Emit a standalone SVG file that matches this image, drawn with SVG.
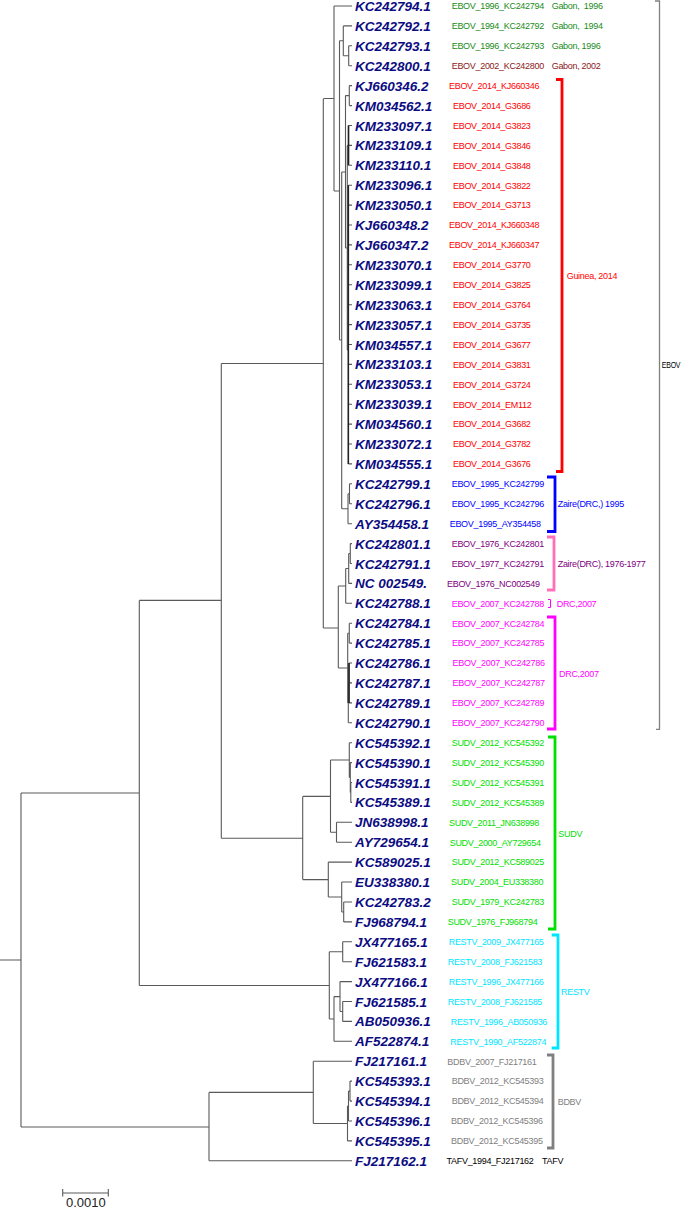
<svg xmlns="http://www.w3.org/2000/svg" width="685" height="1208" viewBox="0 0 685 1208">
<style>
.tree{fill:none;stroke:#5a5a5a;stroke-width:1.1}
.dark{fill:none;stroke:#222;stroke-width:1.6}
.acc{font-family:"Liberation Sans",Arial,sans-serif;font-size:13.5px;font-weight:bold;font-style:italic;fill:#0c0c82}
.lab{font-family:"Liberation Sans",Arial,sans-serif;font-size:9px;letter-spacing:-0.3px}
.br{fill:none;stroke-width:2.8}
.g{fill:#1a8c1a}.dr{fill:#8b1a1a}.r{fill:#ff0000}.b{fill:#0000ff}.p{fill:#800080}.m{fill:#ff00ff}.s{fill:#00e000}.c{fill:#00e5ff}.gr{fill:#808080}.k{fill:#000}
</style>
<rect width="685" height="1208" fill="#fff"/>
<g id="connectors">
<path class="tree" d="M323.3 99V628M323.3 98.5H334M334 6V191M339.5 40.8V340M334 191H339.5M343.3 25.9V55.7M339.5 40.8H343.3M348.7 45.8V65.7M343.3 55.7H348.7M341.7 172V508.7M339.5 340H341.7M345.5 95.6V248M341.7 172H345.5M349.3 85.6V105.6M345.5 95.6H349.3M347.3 145.4V350M345.5 248H347.3M348.5 125.5V165.3M347.3 145.4H348.5M347.3 350H348.3M348 493.8V523.7M341.7 508.7H348M349.5 483.8V503.8M348 493.8H349.5M338.3 586V668M323.3 628H338.3M345.7 568.5V603.3M338.3 586H345.7M348.7 553.5V583.4M345.7 568.5H348.7M350.3 543.6V563.5M348.7 553.5H350.3M347.7 633.2V702.9M338.3 668H347.7M349.3 623.2V643.1M347.7 633.2H349.3M348.3 682.9V722.8M347.7 702.9H348.3M349 663V702.9M348.3 682.9H349"/>
<path class="tree" d="M221.3 363.5V838.2M221.3 363.5H323.3M302.7 796.4V879.6M221.3 838.2H302.7M330.5 760V832.3M302.7 796.4H330.5M349.3 742.7V777.5M330.5 760H349.3M350.3 762.6V792.5M349.3 777.5H350.3M350.8 782.5V802.4M350.3 792.5H350.8M336.5 822.3V842.2M330.5 832.3H336.5M328.3 862.1V897M302.7 879.6H328.3M341.7 882V912M328.3 897H341.7M343.7 902V921.9M341.7 912H343.7"/>
<path class="tree" d="M139.3 600.4V985.5M139.3 600.4H221.3M329.3 951.8V1019M139.3 985.5H329.3M342.7 941.8V961.7M329.3 951.8H342.7M334 996.6V1041.3M329.3 1019H334M340 981.6V1011.5M334 996.6H340M342.7 1001.5V1021.4M340 1011.5H342.7M21 793V1127M0 960H21M21 793H139.3M21 1127H209M209 1092.4V1160.8M313.3 1061.2V1123.5M209 1092.4H313.3M347.5 1106V1140.9M313.3 1123.5H347.5M348.5 1091.1V1121M347.5 1106H348.5M350 1081.1V1101.1M348.5 1091.1H350"/>
<path class="tree" d="M334 6H352M343.3 25.9H352M348.7 45.8H352M348.7 65.7H352M349.3 85.6H352M349.3 105.6H352M348.5 125.5H352M348.5 145.4H352M348.5 165.3H352M348.3 185.2H352M348.3 205.1H352M348.3 225H352M348.3 244.9H352M348.3 264.8H352M348.3 284.7H352M348.3 304.7H352M348.3 324.6H352M348.3 344.5H352M348.3 364.4H352M348.3 384.3H352M348.3 404.2H352M348.3 424.1H352M348.3 444H352M348.3 463.9H352M349.5 483.8H352M349.5 503.8H352M348 523.7H352M350.3 543.6H352M350.3 563.5H352M348.7 583.4H352M345.7 603.3H352M349.3 623.2H352M349.3 643.1H352M349 663H352M349 682.9H352M349 702.9H352M348.3 722.8H352"/>
<path class="tree" d="M349.3 742.7H352M350.3 762.6H352M350.8 782.5H352M350.8 802.4H352M336.5 822.3H352M336.5 842.2H352M328.3 862.1H352M341.7 882H352M343.7 902H352M343.7 921.9H352M342.7 941.8H352M342.7 961.7H352M340 981.6H352M342.7 1001.5H352M342.7 1021.4H352M334 1041.3H352M313.3 1061.2H352M350 1081.1H352M350 1101.1H352M348.5 1121H352M347.5 1140.9H352M209 1160.8H352"/>
<path class="dark" d="M348.3 185.2V463.9M348.5 125.5V165.3M349 663V702.9"/>
</g>
<g id="nodes">
<g id="n0"><text class="acc" x="355" y="11">KC242794.1</text><text class="lab g" x="451.7" y="9.3">EBOV_1996_KC242794</text><text class="lab g" x="551.7" y="9.3" xml:space="preserve">Gabon,  1996</text></g>
<g id="n1"><text class="acc" x="355" y="30.9">KC242792.1</text><text class="lab g" x="451.7" y="29.2">EBOV_1994_KC242792</text><text class="lab g" x="551.7" y="29.2" xml:space="preserve">Gabon,  1994</text></g>
<g id="n2"><text class="acc" x="355" y="50.8">KC242793.1</text><text class="lab g" x="451.7" y="49.1">EBOV_1996_KC242793</text><text class="lab g" x="551.7" y="49.1">Gabon, 1996</text></g>
<g id="n3"><text class="acc" x="355" y="70.7">KC242800.1</text><text class="lab dr" x="451.7" y="69">EBOV_2002_KC242800</text><text class="lab dr" x="551.7" y="69">Gabon, 2002</text></g>
<g id="n4"><text class="acc" x="355" y="90.6">KJ660346.2</text><text class="lab r" x="449" y="88.9">EBOV_2014_KJ660346</text></g>
<g id="n5"><text class="acc" x="355" y="110.6">KM034562.1</text><text class="lab r" x="453" y="108.9">EBOV_2014_G3686</text></g>
<g id="n6"><text class="acc" x="355" y="130.5">KM233097.1</text><text class="lab r" x="453" y="128.8">EBOV_2014_G3823</text></g>
<g id="n7"><text class="acc" x="355" y="150.4">KM233109.1</text><text class="lab r" x="453" y="148.7">EBOV_2014_G3846</text></g>
<g id="n8"><text class="acc" x="355" y="170.3">KM233110.1</text><text class="lab r" x="453" y="168.6">EBOV_2014_G3848</text></g>
<g id="n9"><text class="acc" x="355" y="190.2">KM233096.1</text><text class="lab r" x="453" y="188.5">EBOV_2014_G3822</text></g>
<g id="n10"><text class="acc" x="355" y="210.1">KM233050.1</text><text class="lab r" x="453" y="208.4">EBOV_2014_G3713</text></g>
<g id="n11"><text class="acc" x="355" y="230">KJ660348.2</text><text class="lab r" x="449" y="228.3">EBOV_2014_KJ660348</text></g>
<g id="n12"><text class="acc" x="355" y="249.9">KJ660347.2</text><text class="lab r" x="449" y="248.2">EBOV_2014_KJ660347</text></g>
<g id="n13"><text class="acc" x="355" y="269.8">KM233070.1</text><text class="lab r" x="453" y="268.1">EBOV_2014_G3770</text></g>
<g id="n14"><text class="acc" x="355" y="289.7">KM233099.1</text><text class="lab r" x="453" y="288">EBOV_2014_G3825</text></g>
<g id="n15"><text class="acc" x="355" y="309.7">KM233063.1</text><text class="lab r" x="453" y="308">EBOV_2014_G3764</text></g>
<g id="n16"><text class="acc" x="355" y="329.6">KM233057.1</text><text class="lab r" x="453" y="327.9">EBOV_2014_G3735</text></g>
<g id="n17"><text class="acc" x="355" y="349.5">KM034557.1</text><text class="lab r" x="453" y="347.8">EBOV_2014_G3677</text></g>
<g id="n18"><text class="acc" x="355" y="369.4">KM233103.1</text><text class="lab r" x="453" y="367.7">EBOV_2014_G3831</text></g>
<g id="n19"><text class="acc" x="355" y="389.3">KM233053.1</text><text class="lab r" x="453" y="387.6">EBOV_2014_G3724</text></g>
<g id="n20"><text class="acc" x="355" y="409.2">KM233039.1</text><text class="lab r" x="453" y="407.5">EBOV_2014_EM112</text></g>
<g id="n21"><text class="acc" x="355" y="429.1">KM034560.1</text><text class="lab r" x="453" y="427.4">EBOV_2014_G3682</text></g>
<g id="n22"><text class="acc" x="355" y="449">KM233072.1</text><text class="lab r" x="453" y="447.3">EBOV_2014_G3782</text></g>
<g id="n23"><text class="acc" x="355" y="468.9">KM034555.1</text><text class="lab r" x="453" y="467.2">EBOV_2014_G3676</text></g>
<g id="n24"><text class="acc" x="355" y="488.8">KC242799.1</text><text class="lab b" x="451.7" y="487.1">EBOV_1995_KC242799</text></g>
<g id="n25"><text class="acc" x="355" y="508.8">KC242796.1</text><text class="lab b" x="451.7" y="507.1">EBOV_1995_KC242796</text></g>
<g id="n26"><text class="acc" x="355" y="528.7">AY354458.1</text><text class="lab b" x="449.7" y="527">EBOV_1995_AY354458</text></g>
<g id="n27"><text class="acc" x="355" y="548.6">KC242801.1</text><text class="lab p" x="451.7" y="546.9">EBOV_1976_KC242801</text></g>
<g id="n28"><text class="acc" x="355" y="568.5">KC242791.1</text><text class="lab p" x="451.7" y="566.8">EBOV_1977_KC242791</text></g>
<g id="n29"><text class="acc" x="355" y="588.4">NC 002549.</text><text class="lab p" x="447" y="586.7">EBOV_1976_NC002549</text></g>
<g id="n30"><text class="acc" x="355" y="608.3">KC242788.1</text><text class="lab m" x="451.7" y="606.6">EBOV_2007_KC242788</text><text class="lab m" x="556.7" y="606.6">DRC,2007</text></g>
<g id="n31"><text class="acc" x="355" y="628.2">KC242784.1</text><text class="lab m" x="452" y="626.5">EBOV_2007_KC242784</text></g>
<g id="n32"><text class="acc" x="355" y="648.1">KC242785.1</text><text class="lab m" x="452" y="646.4">EBOV_2007_KC242785</text></g>
<g id="n33"><text class="acc" x="355" y="668">KC242786.1</text><text class="lab m" x="452.5" y="666.3">EBOV_2007_KC242786</text></g>
<g id="n34"><text class="acc" x="355" y="687.9">KC242787.1</text><text class="lab m" x="452.5" y="686.2">EBOV_2007_KC242787</text></g>
<g id="n35"><text class="acc" x="355" y="707.9">KC242789.1</text><text class="lab m" x="452" y="706.2">EBOV_2007_KC242789</text></g>
<g id="n36"><text class="acc" x="355" y="727.8">KC242790.1</text><text class="lab m" x="452" y="726.1">EBOV_2007_KC242790</text></g>
<g id="n37"><text class="acc" x="355" y="747.7">KC545392.1</text><text class="lab s" x="451.7" y="746">SUDV_2012_KC545392</text></g>
<g id="n38"><text class="acc" x="355" y="767.6">KC545390.1</text><text class="lab s" x="451.7" y="765.9">SUDV_2012_KC545390</text></g>
<g id="n39"><text class="acc" x="355" y="787.5">KC545391.1</text><text class="lab s" x="451.7" y="785.8">SUDV_2012_KC545391</text></g>
<g id="n40"><text class="acc" x="355" y="807.4">KC545389.1</text><text class="lab s" x="451.7" y="805.7">SUDV_2012_KC545389</text></g>
<g id="n41"><text class="acc" x="355" y="827.3">JN638998.1</text><text class="lab s" x="449" y="825.6">SUDV_2011_JN638998</text></g>
<g id="n42"><text class="acc" x="355" y="847.2">AY729654.1</text><text class="lab s" x="449.7" y="845.5">SUDV_2000_AY729654</text></g>
<g id="n43"><text class="acc" x="355" y="867.1">KC589025.1</text><text class="lab s" x="451.7" y="865.4">SUDV_2012_KC589025</text></g>
<g id="n44"><text class="acc" x="355" y="887">EU338380.1</text><text class="lab s" x="451" y="885.3">SUDV_2004_EU338380</text></g>
<g id="n45"><text class="acc" x="355" y="907">KC242783.2</text><text class="lab s" x="451.7" y="905.3">SUDV_1979_KC242783</text></g>
<g id="n46"><text class="acc" x="355" y="926.9">FJ968794.1</text><text class="lab s" x="447.7" y="925.2">SUDV_1976_FJ968794</text></g>
<g id="n47"><text class="acc" x="355" y="946.8">JX477165.1</text><text class="lab c" x="448.7" y="945.1">RESTV_2009_JX477165</text></g>
<g id="n48"><text class="acc" x="355" y="966.7">FJ621583.1</text><text class="lab c" x="447.7" y="965">RESTV_2008_FJ621583</text></g>
<g id="n49"><text class="acc" x="355" y="986.6">JX477166.1</text><text class="lab c" x="448.7" y="984.9">RESTV_1996_JX477166</text></g>
<g id="n50"><text class="acc" x="355" y="1006.5">FJ621585.1</text><text class="lab c" x="447.7" y="1004.8">RESTV_2008_FJ621585</text></g>
<g id="n51"><text class="acc" x="355" y="1026.4">AB050936.1</text><text class="lab c" x="450.7" y="1024.7">RESTV_1996_AB050936</text></g>
<g id="n52"><text class="acc" x="355" y="1046.3">AF522874.1</text><text class="lab c" x="450.3" y="1044.6">RESTV_1990_AF522874</text></g>
<g id="n53"><text class="acc" x="355" y="1066.2">FJ217161.1</text><text class="lab gr" x="447.3" y="1064.5">BDBV_2007_FJ217161</text></g>
<g id="n54"><text class="acc" x="355" y="1086.1">KC545393.1</text><text class="lab gr" x="451.7" y="1084.4">BDBV_2012_KC545393</text></g>
<g id="n55"><text class="acc" x="355" y="1106.1">KC545394.1</text><text class="lab gr" x="451.7" y="1104.4">BDBV_2012_KC545394</text></g>
<g id="n56"><text class="acc" x="355" y="1126">KC545396.1</text><text class="lab gr" x="451" y="1124.3">BDBV_2012_KC545396</text></g>
<g id="n57"><text class="acc" x="355" y="1145.9">KC545395.1</text><text class="lab gr" x="451" y="1144.2">BDBV_2012_KC545395</text></g>
<g id="n58"><text class="acc" x="355" y="1165.8">FJ217162.1</text><text class="lab k" x="446.5" y="1164.1">TAFV_1994_FJ217162</text><text class="lab k" x="542" y="1164.1">TAFV</text></g>
</g>
<g id="brackets">
<path class="br" stroke="#ff0000" d="M556 79.5H562V471.5H556"/>
<text class="lab r" x="566.7" y="279.3">Guinea, 2014</text>
<path class="br" stroke="#0000ff" d="M547 477H555V531.5H547"/>
<text class="lab b" x="557.7" y="507.3">Zaire(DRC,) 1995</text>
<path class="br" stroke="#ff70b8" d="M547 537H554V590H547"/>
<text class="lab p" x="557.7" y="567">Zaire(DRC), 1976-1977</text>
<path fill="none" stroke="#ff00ff" stroke-width="1" d="M548 599.5H550.5V607.5H548"/>
<path class="br" stroke="#ff00ff" d="M547 617H555V729H547"/>
<text class="lab m" x="559" y="676.5">DRC,2007</text>
<path fill="none" stroke="#808080" stroke-width="1.3" d="M655 1H659.5V729.3H656"/>
<text class="lab k" x="661.8" y="367.5" textLength="18.5" lengthAdjust="spacingAndGlyphs">EBOV</text>
<path class="br" stroke="#00e000" d="M548 737H555V929H548"/>
<text class="lab s" x="558.3" y="836.5">SUDV</text>
<path class="br" stroke="#00e5ff" d="M551.7 935H558V1048H551.7"/>
<text class="lab c" x="561" y="994.5">RESTV</text>
<path class="br" stroke="#808080" d="M547 1055H553V1148H547"/>
<text class="lab gr" x="557.7" y="1104.5">BDBV</text>
</g>
<g id="scale">
<path class="tree" d="M62.7 1193H108.3M62.7 1189V1196.5M108.3 1189V1196.5"/>
<text x="85.8" y="1207" text-anchor="middle" font-family="Liberation Sans, Arial, sans-serif" font-size="13" fill="#222">0.0010</text>
</g>
</svg>
